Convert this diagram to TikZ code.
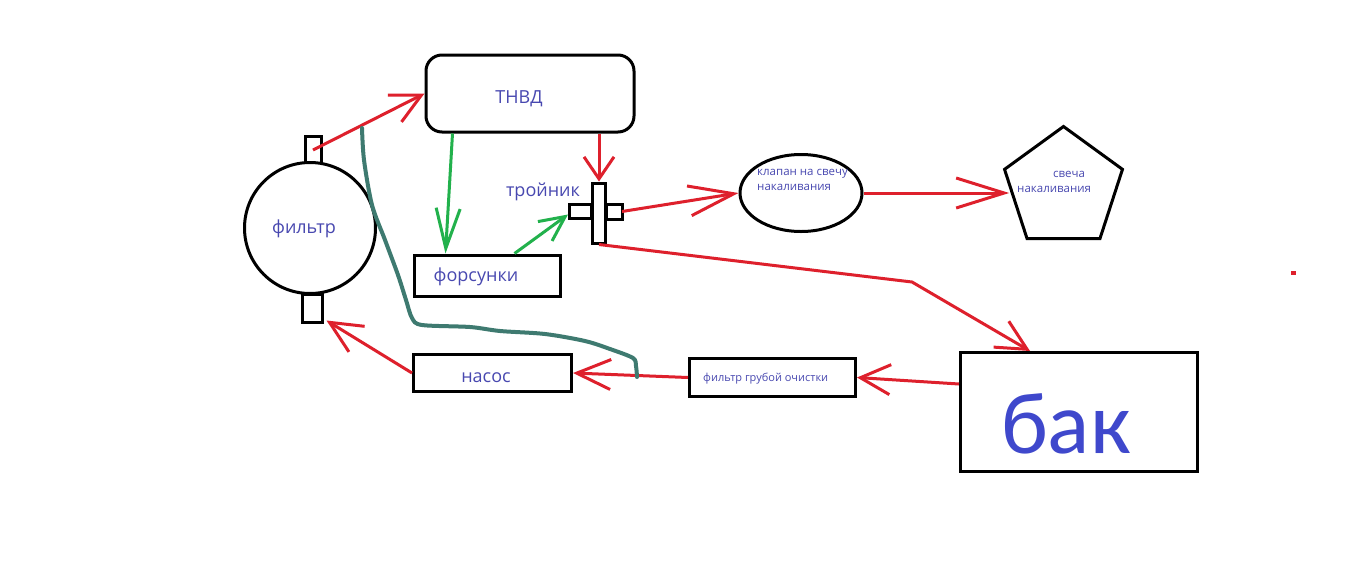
\documentclass[tikz,border=0pt]{standalone}
\usepackage{fontspec}
\setmainfont{Open Sans}
\newfontfamily\bakfont{Carlito}
\usepackage{xcolor}
\usepackage{tikz}
\usetikzlibrary{arrows.meta,shapes.geometric,calc}

\definecolor{pipered}{RGB}{222,32,44}
\definecolor{pipegreen}{RGB}{34,177,76}
\definecolor{hosecol}{RGB}{62,122,112}
\definecolor{labelblue}{RGB}{72,72,176}
\definecolor{bakblue}{RGB}{63,72,204}

\begin{document}
\begin{tikzpicture}[x=1pt, y=-1pt,
  part/.style={draw, line width=3pt, inner sep=0pt},
  lbl/.style={text=labelblue, inner sep=0pt, anchor=base, font=\fontsize{18}{22}\selectfont},
  smalllbl/.style={text=labelblue, inner sep=0pt, anchor=base west, font=\fontsize{11.5}{14}\selectfont},
  redflow/.style={draw=pipered, line width=3pt, -{Straight Barb[length=#1, width=30pt]}},
  redflow/.default=30pt,
  greenflow/.style={draw=pipegreen, line width=3pt, -{Straight Barb[length=#1, width=24pt]}},
  greenflow/.default=30pt]

\fill[white] (0,0) rectangle (1352,563);

% Filter with its two pipe ends
\node[part, minimum width=16, minimum height=27] (filtop) at (313,150) {};
\node[part, minimum width=20, minimum height=28] (filbot) at (312,308) {};
\node[part, circle, minimum size=131, fill=white] (fil) at (310,228) {};
\node[lbl] (filL) at (304,233) {фильтр};

% Pump and injectors
\node[part, rounded corners=16, minimum width=208, minimum height=77] (tnvd) at (530,93.5) {};
\node[lbl] (tnvdL) at (519,103) {ТНВД};
\node[part, minimum width=146, minimum height=41] (fors) at (487,275.5) {};
\node[lbl] (forsL) at (476,281) {форсунки};

% Tee
\node[part, minimum width=22, minimum height=14] (teeL) at (580.5,211.5) {};
\node[part, minimum width=16, minimum height=15] (teeR) at (614.5,211.5) {};
\node[part, minimum width=13, minimum height=60, fill=white] (tee) at (599,213) {};
\node[lbl] (teeLbl) at (543,196) {тройник};

% Glow plug line
\node[part, ellipse, minimum width=122, minimum height=77] (kl) at (801,193) {};
\node[smalllbl] (klL1) at (757,175) {клапан на свечу};
\node[smalllbl] (klL2) at (757,190) {накаливания};
\node[part, regular polygon, regular polygon sides=5, minimum size=124] (svecha) at (1063.5,188.5) {};
\node[smalllbl] (svL1) at (1053,177) {свеча};
\node[smalllbl] (svL2) at (1017,192) {накаливания};

% Tank side
\node[part, minimum width=237, minimum height=119] (bak) at (1079,412) {};
\node[text=bakblue, inner sep=0pt, anchor=base, font=\bakfont\fontsize{88}{100}\selectfont] (bakL) at (1066,453) {бак};
\node[part, minimum width=166, minimum height=38] (grub) at (772.5,377.5) {};
\node[smalllbl, font=\fontsize{11}{13}\selectfont] (grubL) at (703,381) {фильтр грубой очистки};
\node[part, minimum width=158, minimum height=37] (nasos) at (492.5,373) {};
\node[lbl] (nasosL) at (486,382) {насос};

\coordinate (bend) at (912,282);

% Fuel flow
\draw[redflow] (filtop.center) -- (tnvd.west);
\draw[redflow=22pt] (tee.north |- tnvd.south) -- (tee.north);
\draw[greenflow=40pt] ([xshift=28pt]tnvd.south west) -- ([xshift=33pt]fors.north west);
\draw[greenflow=25pt] ([xshift=102pt]fors.north west) -- ([yshift=-3pt]teeL.west);
\draw[redflow=45pt] ([xshift=-2pt]teeR.east) -- (kl.west);
\draw[redflow=48pt] (kl.east) -- (svecha.west |- kl.east);
\draw[redflow] (tee.south) -- (bend) -- ([xshift=-49pt]bak.north);
\draw[redflow] ([yshift=28pt]bak.west) -- (grub.east);
\draw[redflow=34pt] (grub.west) -- (nasos.east);
\draw[redflow=32pt] (nasos.west) -- ([shift={(3pt,3pt)}]filbot.south east);

% Return hose
\draw[hosecol, line width=4pt, line cap=round, line join=round]
  plot[smooth, tension=0.5] coordinates {(362,128) (364,160) (372,205) (385,240) (398,275)
  (406,300) (412,318) (422,325) (470,327) (500,331) (545,334) (585,341) (610,349) (633,358)
  (636,366) (637,377)};

% stray mark
\fill[pipered] (1291,271) rectangle (1296,275);

\end{tikzpicture}
\end{document}
